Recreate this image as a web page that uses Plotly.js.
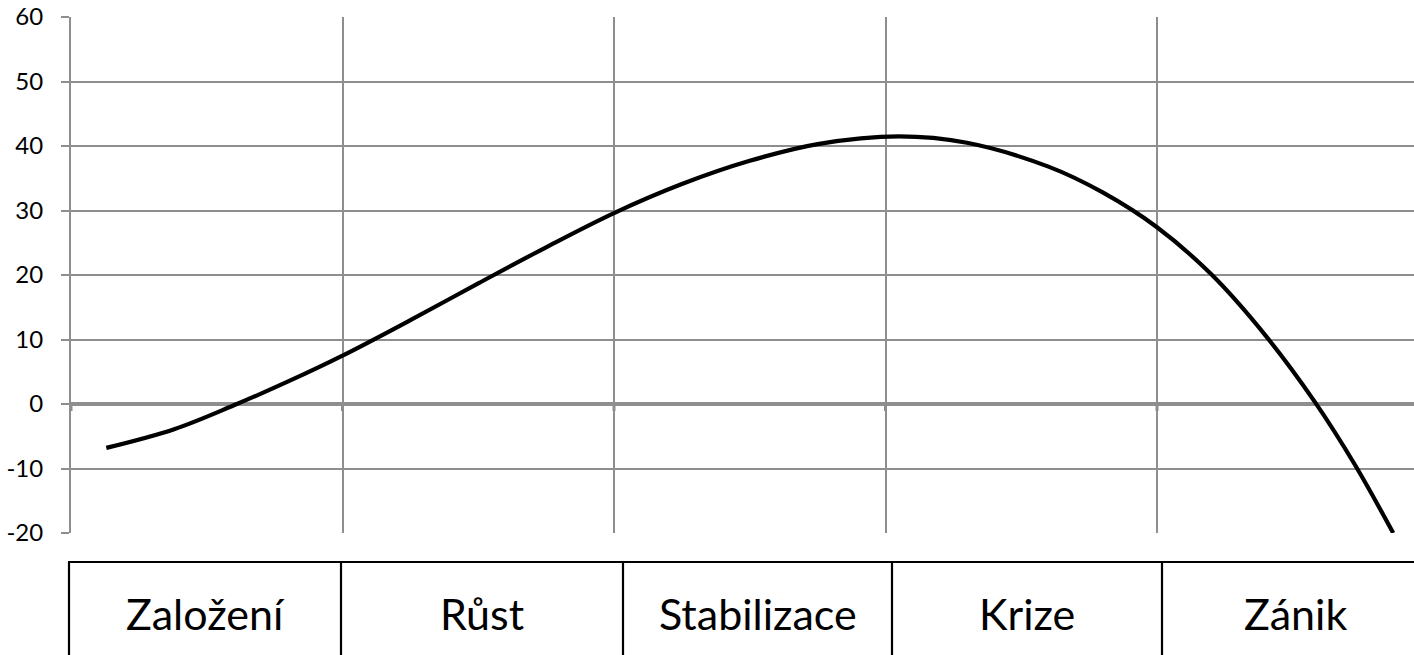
<!DOCTYPE html>
<html>
<head>
<meta charset="utf-8">
<script src="https://cdn.plot.ly/plotly-3.0.1.min.js"></script>
<style>html,body{margin:0;padding:0;background:#fff;}#chart{width:1414px;height:655px;}</style>
</head>
<body>
<div id="chart"></div>
<script>
// ---- data ----
const curveX = [0.13, 0.38, 0.6, 0.8, 1.0, 1.25, 1.5, 1.75, 2.0, 2.25, 2.5, 2.75, 3.05, 3.3, 3.6, 3.8, 4.0, 4.2, 4.4, 4.58, 4.73, 4.87];
const curveY = [-6.8, -3.9, -0.2, 3.5, 7.5, 13.0, 18.7, 24.3, 29.6, 34.1, 37.7, 40.3, 41.5, 40.5, 36.8, 32.8, 27.4, 20.1, 10.6, 0.4, -9.5, -20];
const phases = ['Založení', 'Růst', 'Stabilizace', 'Krize', 'Zánik'];
const yTickVals = [-20, -10, 0, 10, 20, 30, 40, 50, 60];
const xGridVals = [0, 1, 2, 3, 4];

// ---- layout constants (pixels) ----
const W = 1414, H = 655;
const plotLeft = 71, plotTop = 17, plotBottom = 533;
const tableTop = 562;
const colEdges = [69, 341, 623, 892, 1162, 1428];
const labelY = 613;
const grid = '#8e8e8e';

const px = v => v / W;
const py = v => 1 - v / H;

const shapes = [];
// small tick stubs below the zero line
xGridVals.forEach(v => {
  shapes.push({type: 'line', xref: 'x', yref: 'y', ysizemode: 'pixel', yanchor: 0,
    x0: v, x1: v, y0: 0, y1: -7, line: {color: grid, width: 3}});
});
// table
shapes.push({type: 'line', xref: 'paper', yref: 'paper', x0: px(colEdges[0] - 1), x1: px(W + 10),
  y0: py(tableTop), y1: py(tableTop), line: {color: '#000', width: 2.2}});
colEdges.forEach(e => {
  shapes.push({type: 'line', xref: 'paper', yref: 'paper', x0: px(e), x1: px(e),
    y0: py(tableTop), y1: py(H + 10), line: {color: '#000', width: 2.2}});
});

const annotations = phases.map((p, i) => ({
  xref: 'paper', yref: 'paper', x: px((colEdges[i] + colEdges[i + 1]) / 2), y: py(labelY),
  xanchor: 'center', yanchor: 'middle', showarrow: false, text: p,
  font: {family: 'Lato, "Open Sans", sans-serif', size: 43, color: '#000'}
}));

const trace = {
  x: curveX, y: curveY, type: 'scatter', mode: 'lines',
  line: {color: '#000', width: 4.2, shape: 'spline', smoothing: 1},
  hoverinfo: 'skip'
};

const layout = {
  width: W, height: H,
  margin: {l: 0, r: 0, t: 0, b: 0, pad: 0},
  paper_bgcolor: '#fff', plot_bgcolor: '#fff',
  showlegend: false,
  xaxis: {
    domain: [px(plotLeft), 1], range: [0, (W - plotLeft) / 271.5],
    tickvals: xGridVals, showticklabels: false, ticks: '',
    showgrid: true, gridcolor: grid, gridwidth: 2, zeroline: false, showline: false,
    automargin: false, fixedrange: true
  },
  yaxis: {
    domain: [1 - plotBottom / H, 1 - plotTop / H], range: [-20, 60],
    tickvals: yTickVals, ticktext: yTickVals.map(String),
    showgrid: true, gridcolor: grid, gridwidth: 2,
    zeroline: true, zerolinecolor: grid, zerolinewidth: 3.5,
    showline: true, linecolor: grid, linewidth: 2,
    ticks: 'outside', ticklen: 8, tickcolor: grid, tickwidth: 2,
    ticklabelstandoff: 13,
    tickfont: {family: 'Lato, "Open Sans", sans-serif', size: 24, color: '#000'},
    automargin: false, fixedrange: true
  },
  shapes: shapes,
  annotations: annotations
};

Plotly.newPlot('chart', [trace], layout, {displayModeBar: false, staticPlot: true});
</script>
</body>
</html>
